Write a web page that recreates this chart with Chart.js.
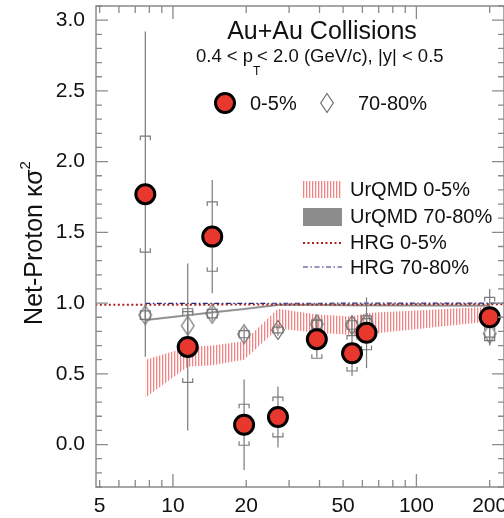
<!DOCTYPE html>
<html>
<head>
<meta charset="utf-8">
<script src="https://cdn.jsdelivr.net/npm/chart.js@4.4.1/dist/chart.umd.min.js"></script>
<style>
  html, body { margin: 0; padding: 0; background: #fff; }
  canvas { display: block; }
</style>
</head>
<body>
<canvas id="chart" width="504" height="518"></canvas>
<script>
// beam energies (sqrt(sNN), GeV)
const energy = [7.7, 11.5, 14.5, 19.6, 27, 39, 54.4, 62.4, 200];

// 0-5% centrality: value, statistical and systematic errors
const central = [1.77, 0.69, 1.47, 0.14, 0.195, 0.745, 0.645, 0.79, 0.90];
const centralStat = [1.15, 0.59, 0.40, 0.32, 0.215, 0.13, 0.16, 0.25, 0.20];
const centralSys = [0.41, 0.25, 0.245, 0.145, 0.14, 0.135, 0.125, 0.12, 0.14];

// 70-80% centrality
const peripheral = [0.915, 0.84, 0.925, 0.78, 0.81, 0.85, 0.845, 0.86, 0.785];
const peripheralStat = [0.06, 0.10, 0.05, 0.05, 0.04, 0.05, 0.06, 0.06, 0.08];
const peripheralSys = [0.03, 0.12, 0.03, 0.025, 0.02, 0.03, 0.03, 0.03, 0.05];

// UrQMD bands
const urqmdCentralHigh = [0.60, 0.69, 0.70, 0.73, 0.96, 0.92, 0.905, 0.93, 0.975];
const urqmdCentralLow = [0.33, 0.55, 0.56, 0.60, 0.82, 0.79, 0.775, 0.78, 0.87];
const urqmdPeriphHigh = [0.884, 0.918, 0.938, 0.962, 0.991, 0.991, 0.988, 0.988, 0.986];
const urqmdPeriphLow = [0.876, 0.910, 0.930, 0.954, 0.983, 0.983, 0.980, 0.980, 0.978];

// HRG lines
const hrgCentralEnergy = [4.8, 230];
const hrgCentral = [0.988, 0.992];
const hrgPeriphEnergy = [7.7, 230];
const hrgPeriph = [0.998, 1.0];

// axis ticks
const xLabelTicks = [5, 10, 20, 50, 100, 200];
const xMajorTicks = [10, 100];
const xMinorTicks = [5, 6, 7, 8, 9, 20, 30, 40, 50, 60, 70, 80, 90, 200];
const yLabelTicks = [0, 0.5, 1.0, 1.5, 2.0, 2.5, 3.0];

const FONT = '"Liberation Sans", Arial, Helvetica, sans-serif';
const RED = '#e8382d';

const pts = (xs, ys) => xs.map((v, i) => ({ x: v, y: ys[i] }));

// vertical hatch for UrQMD 0-5%
const hatch = document.createElement('canvas');
hatch.width = 3; hatch.height = 4;
const hc = hatch.getContext('2d');
hc.fillStyle = 'rgba(240,110,110,0.85)';
hc.fillRect(0, 0, 1, 4);
hc.fillStyle = 'rgba(240,110,110,0.25)';
hc.fillRect(1, 0, 1, 4);
const hatchPattern = document.getElementById('chart').getContext('2d').createPattern(hatch, 'repeat');

// tall open diamond marker
const diamond = document.createElement('canvas');
diamond.width = 16; diamond.height = 22;
(function () {
  const d = diamond.getContext('2d');
  d.strokeStyle = '#6e6e6e';
  d.lineWidth = 1.2;
  d.beginPath();
  d.moveTo(8, 1.5); d.lineTo(14.3, 11); d.lineTo(8, 20.5); d.lineTo(1.7, 11); d.closePath();
  d.stroke();
})();

function drawErrors(chart, ds) {
  const { ctx, chartArea, scales: { x, y } } = chart;
  ctx.save();
  ctx.beginPath();
  ctx.rect(chartArea.left, chartArea.top, chartArea.right - chartArea.left, chartArea.bottom - chartArea.top);
  ctx.clip();
  ctx.strokeStyle = '#7a7a7a';
  ctx.lineWidth = 1.2;
  ds.data.forEach((p, i) => {
    const px = x.getPixelForValue(p.x);
    const st = ds.statErr[i], sy = ds.sysErr[i];
    ctx.beginPath();
    ctx.moveTo(px, y.getPixelForValue(p.y + st));
    ctx.lineTo(px, y.getPixelForValue(p.y - st));
    ctx.stroke();
    const hw = 5, cap = 4;
    const top = y.getPixelForValue(p.y + sy), bot = y.getPixelForValue(p.y - sy);
    ctx.beginPath();
    ctx.moveTo(px - hw, top + cap); ctx.lineTo(px - hw, top); ctx.lineTo(px + hw, top); ctx.lineTo(px + hw, top + cap);
    ctx.moveTo(px - hw, bot - cap); ctx.lineTo(px - hw, bot); ctx.lineTo(px + hw, bot); ctx.lineTo(px + hw, bot - cap);
    ctx.stroke();
  });
  ctx.restore();
}

const decor = {
  id: 'decor',
  beforeDatasetDraw(chart, args) {
    const ds = chart.data.datasets[args.index];
    if (ds.statErr) drawErrors(chart, ds);
  },
  afterDraw(chart) {
    const { ctx, chartArea: a, scales: { x, y } } = chart;
    ctx.save();
    // frame
    ctx.strokeStyle = '#8a8a8a';
    ctx.lineWidth = 1.5;
    ctx.strokeRect(a.left, a.top, a.right - a.left, a.bottom - a.top);
    // inward ticks
    ctx.lineWidth = 1.3;
    ctx.beginPath();
    const xt = (v, len) => {
      const px = x.getPixelForValue(v);
      ctx.moveTo(px, a.bottom); ctx.lineTo(px, a.bottom - len);
      ctx.moveTo(px, a.top); ctx.lineTo(px, a.top + len);
    };
    xMajorTicks.forEach(v => xt(v, 13));
    xMinorTicks.forEach(v => xt(v, 7));
    const yt = (v, len) => {
      const py = y.getPixelForValue(v);
      ctx.moveTo(a.left, py); ctx.lineTo(a.left + len, py);
      ctx.moveTo(a.right, py); ctx.lineTo(a.right - len, py);
    };
    for (let k = -3; k <= 31; k++) yt(k / 10, k % 5 === 0 ? 12 : 6);
    ctx.stroke();

    ctx.fillStyle = '#111';
    ctx.textBaseline = 'middle';

    // y axis title
    ctx.save();
    ctx.translate(35, 243);
    ctx.rotate(-Math.PI / 2);
    ctx.font = '25px ' + FONT;
    const main = 'Net-Proton κσ';
    const w1 = ctx.measureText(main).width;
    ctx.font = '15px ' + FONT;
    const w2 = ctx.measureText('2').width;
    const x0 = -(w1 + w2) / 2;
    ctx.font = '25px ' + FONT;
    ctx.textAlign = 'left';
    ctx.fillText(main, x0, 0);
    ctx.font = '15px ' + FONT;
    ctx.fillText('2', x0 + w1, -9);
    ctx.restore();

    // title
    ctx.textAlign = 'center';
    ctx.font = '25px ' + FONT;
    ctx.fillText('Au+Au Collisions', 322, 32);

    // subtitle
    ctx.textAlign = 'left';
    let sx = 196;
    ctx.font = '18.5px ' + FONT;
    ctx.fillText('0.4 < p', sx, 57);
    sx += ctx.measureText('0.4 < p').width;
    ctx.font = '12px ' + FONT;
    ctx.fillText('T', sx, 72);
    sx += 4;
    ctx.font = '18.5px ' + FONT;
    ctx.fillText('< 2.0 (GeV/c), |y| < 0.5', sx, 57);

    // marker legend
    ctx.beginPath();
    ctx.arc(225, 103, 9.5, 0, Math.PI * 2);
    ctx.fillStyle = RED;
    ctx.fill();
    ctx.lineWidth = 3;
    ctx.strokeStyle = '#000';
    ctx.stroke();
    ctx.drawImage(diamond, 327 - 8, 103 - 11);
    ctx.fillStyle = '#111';
    ctx.font = '20px ' + FONT;
    ctx.fillText('0-5%', 250, 104);
    ctx.fillText('70-80%', 358, 104);

    // model legend
    ctx.fillStyle = hatchPattern;
    ctx.fillRect(303, 181, 39, 17);
    ctx.fillStyle = '#8c8c8c';
    ctx.fillRect(303, 208, 39, 18);
    ctx.lineWidth = 2;
    ctx.strokeStyle = '#a52020';
    ctx.setLineDash([2, 2.5]);
    ctx.beginPath(); ctx.moveTo(303, 243); ctx.lineTo(342, 243); ctx.stroke();
    ctx.lineWidth = 1.2;
    ctx.strokeStyle = '#2a2a7a';
    ctx.setLineDash([5, 2.5, 1.5, 2.5]);
    ctx.beginPath(); ctx.moveTo(303, 267); ctx.lineTo(342, 267); ctx.stroke();
    ctx.setLineDash([]);
    ctx.fillStyle = '#111';
    ctx.font = '20px ' + FONT;
    ctx.fillText('UrQMD 0-5%', 350, 190);
    ctx.fillText('UrQMD 70-80%', 350, 217);
    ctx.fillText('HRG 0-5%', 350, 243);
    ctx.fillText('HRG 70-80%', 350, 268);
    ctx.restore();
  }
};

new Chart(document.getElementById('chart'), {
  type: 'line',
  data: {
    datasets: [
      { data: pts(energy, urqmdCentralHigh), fill: '+1', backgroundColor: hatchPattern, borderWidth: 0, pointRadius: 0, order: 6 },
      { data: pts(energy, urqmdCentralLow), fill: false, borderWidth: 0, pointRadius: 0, order: 6 },
      { data: pts(energy, urqmdPeriphHigh), fill: '+1', backgroundColor: '#8c8c8c', borderColor: '#8c8c8c', borderWidth: 0.8, pointRadius: 0, order: 5 },
      { data: pts(energy, urqmdPeriphLow), fill: false, borderColor: '#8c8c8c', borderWidth: 0.8, pointRadius: 0, order: 5 },
      { data: pts(hrgCentralEnergy, hrgCentral), fill: false, borderColor: '#a52020', borderWidth: 2, borderDash: [2, 2.5], pointRadius: 0, order: 4 },
      { data: pts(hrgPeriphEnergy, hrgPeriph), fill: false, borderColor: '#2a2a7a', borderWidth: 1.2, borderDash: [5, 2.5, 1.5, 2.5], pointRadius: 0, order: 3 },
      { data: pts(energy, peripheral), statErr: peripheralStat, sysErr: peripheralSys, showLine: false,
        pointStyle: diamond, pointRadius: 8, order: 2 },
      { data: pts(energy, central), statErr: centralStat, sysErr: centralSys, showLine: false,
        pointStyle: 'circle', pointRadius: 9.5, pointBorderWidth: 3, pointBackgroundColor: RED, pointBorderColor: '#000', order: 1 }
    ]
  },
  options: {
    responsive: false,
    animation: false,
    events: [],
    layout: { padding: { top: 6, right: 0, left: 0, bottom: 0 }, autoPadding: false },
    scales: {
      x: {
        type: 'logarithmic', min: 4.83, max: 229,
        grid: { display: false, drawTicks: false },
        border: { display: false },
        afterBuildTicks: s => { s.ticks = xLabelTicks.map(v => ({ value: v })); },
        afterFit: s => { s.height = 31; s.paddingLeft = 0; s.paddingRight = 0; },
        ticks: { autoSkip: false, maxRotation: 0, padding: 7, color: '#111', font: { family: FONT, size: 21 }, callback: v => String(v) }
      },
      y: {
        min: -0.3, max: 3.1,
        grid: { display: false, drawTicks: false },
        border: { display: false },
        afterBuildTicks: s => { s.ticks = yLabelTicks.map(v => ({ value: v })); },
        afterFit: s => { s.width = 96; s.paddingTop = 0; s.paddingBottom = 0; },
        ticks: { padding: 11, color: '#111', font: { family: FONT, size: 21 }, callback: v => Number(v).toFixed(1) }
      }
    },
    plugins: { legend: { display: false }, tooltip: { enabled: false } }
  },
  plugins: [decor]
});
</script>
</body>
</html>
